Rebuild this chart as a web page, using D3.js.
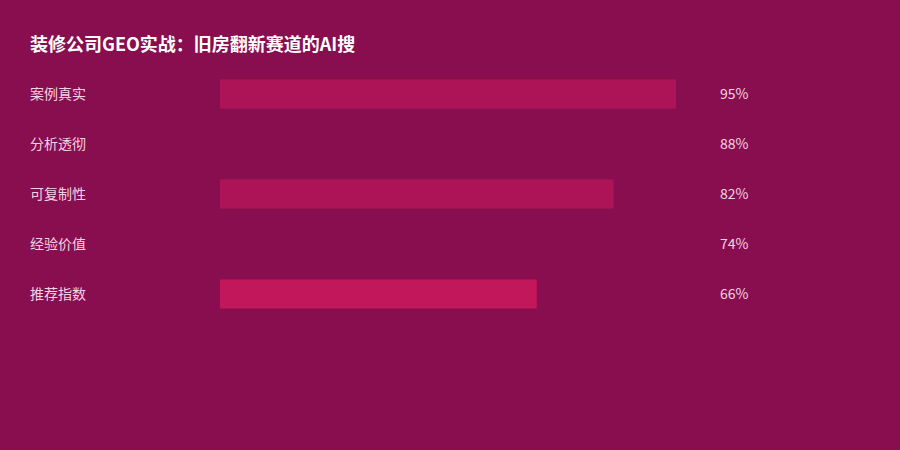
<!DOCTYPE html>
<html>
<head>
<meta charset="utf-8">
<script src="https://cdn.jsdelivr.net/npm/d3@7"></script>
<style>
  body { margin: 0; background: #880E4F; }
  svg { display: block; font-family: "Noto Sans CJK SC", "Noto Sans", sans-serif; }
</style>
</head>
<body>
<svg id="chart"></svg>
<script>
const W = 900;
const H = 450;

const categories = ["案例真实", "分析透彻", "可复制性", "经验价值", "推荐指数"];
const values = [95, 88, 82, 74, 66];
const barColors = ["#AD1457", "#880E4F", "#AD1457", "#880E4F", "#C2185B"];
const title = "装修公司GEO实战：旧房翻新赛道的AI搜";

const svg = d3.select("#chart").attr("width", W).attr("height", H);

svg.append("rect")
  .attr("width", W)
  .attr("height", H)
  .attr("fill", "#880E4F");

// Title
svg.append("text")
  .attr("x", 30)
  .attr("y", 51)
  .attr("fill", "#ffffff")
  .style("font-size", "18px")
  .style("font-weight", "700")
  .text(title);

const x = d3.scaleLinear().domain([0, 100]).range([220, 700]);

const y = d3.scalePoint()
  .domain(categories)
  .range([94, 294]);

const barH = 29;

const rows = svg.append("g")
  .selectAll("g")
  .data(categories)
  .join("g");

rows.append("rect")
  .attr("x", x(0))
  .attr("y", (d) => y(d) - barH / 2)
  .attr("width", (d, i) => x(values[i]) - x(0))
  .attr("height", barH)
  .attr("fill", (d, i) => barColors[i]);

// Category labels
rows.append("text")
  .attr("x", 30)
  .attr("y", (d) => y(d))
  .attr("dy", "0.35em")
  .attr("fill", "#F3D3E2")
  .style("font-size", "14px")
  .text((d) => d);

// Value labels
rows.append("text")
  .attr("x", 720)
  .attr("y", (d) => y(d))
  .attr("dy", "0.35em")
  .attr("fill", "#F3D3E2")
  .style("font-size", "14px")
  .text((d, i) => `${values[i]}%`);
</script>
</body>
</html>
